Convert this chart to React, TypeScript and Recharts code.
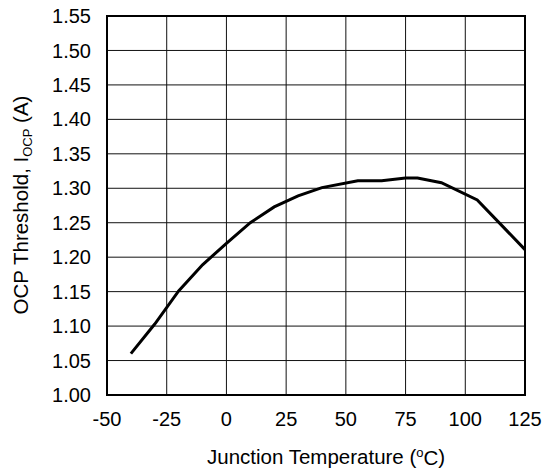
import { LineChart, Line, XAxis, YAxis, CartesianGrid, ReferenceArea } from "recharts";

const temps = [-40, -30, -20, -10, 0, 10, 20, 30, 40, 55, 65, 75, 80, 90, 105, 125];
const ocp = [1.06, 1.103, 1.151, 1.189, 1.22, 1.25, 1.273, 1.289, 1.301, 1.311, 1.311, 1.315, 1.315, 1.308, 1.283, 1.211];

const xTicks = [-50, -25, 0, 25, 50, 75, 100, 125];
const yTicks = [1.0, 1.05, 1.1, 1.15, 1.2, 1.25, 1.3, 1.35, 1.4, 1.45, 1.5, 1.55];

const data = temps.map((t, i) => ({ t, v: ocp[i] }));

const FONT = "Arial, 'Liberation Sans', sans-serif";

export default function App() {
  return (
    <div style={{ position: "absolute", left: 0, top: 0, width: 548, height: 469, background: "#fff" }}>
      <LineChart width={548} height={469} data={data} margin={{ top: 16, right: 23, bottom: 44, left: 47 }}>
        <CartesianGrid stroke="#111" strokeWidth={1} vertical horizontal />
        <XAxis
          dataKey="t"
          type="number"
          domain={[-50, 125]}
          ticks={xTicks}
          axisLine={false}
          tickLine={false}
          tickSize={0}
          tickMargin={17}
          height={30}
          tick={{ fill: "#000", fontSize: 20, fontFamily: FONT }}
          label={() => (
            <text x={207} y={464} fill="#000" fontSize={20.5} fontFamily={FONT}>
              Junction Temperature (
              <tspan fontSize={13} dy={-7}>o</tspan>
              <tspan dy={8}>C</tspan>
              <tspan dy={-1}>)</tspan>
            </text>
          )}
        />
        <YAxis
          type="number"
          domain={[1.0, 1.55]}
          ticks={yTicks}
          axisLine={false}
          tickLine={false}
          tickSize={0}
          tickMargin={16}
          width={60}
          tickFormatter={(v: number) => v.toFixed(2)}
          tick={{ fill: "#000", fontSize: 20, fontFamily: FONT }}
          label={() => (
            <text
              x={28}
              y={205}
              transform="rotate(-90, 28, 205)"
              textAnchor="middle"
              fill="#000"
              fontSize={20.5}
              fontFamily={FONT}
            >
              OCP Threshold, I
              <tspan fontSize={13} dy={4}>OCP</tspan>
              <tspan dy={-4}> (A)</tspan>
            </text>
          )}
        />
        <ReferenceArea x1={-50} x2={125} y1={1.0} y2={1.55} fill="none" stroke="#000" strokeWidth={2} ifOverflow="visible" />
        <Line type="linear" dataKey="v" stroke="#000" strokeWidth={3} dot={false} isAnimationActive={false} />
      </LineChart>
    </div>
  );
}
